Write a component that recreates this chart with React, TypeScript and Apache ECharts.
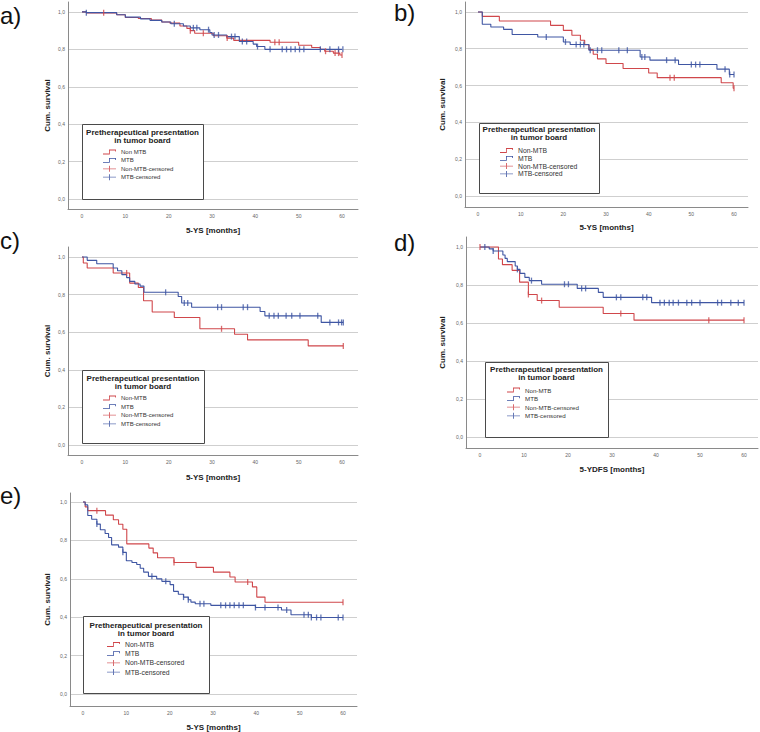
import React, { useEffect, useRef } from 'react';
import * as echarts from 'echarts';

const xTicks = [0, 10, 20, 30, 40, 50, 60];
const yTicks = [0, 0.2, 0.4, 0.6, 0.8, 1.0];

// ---- a) ----
const aNonMtbTimes = [0, 1, 8, 10, 13, 16, 18.4, 20.3, 22.6, 24.2, 25, 26, 30.3, 33.4, 35, 43.4, 50, 53, 55, 56, 58, 59.5, 60];
const aNonMtbSurv = [1, 0.995, 0.985, 0.97, 0.965, 0.957, 0.946, 0.94, 0.925, 0.912, 0.9, 0.886, 0.873, 0.86, 0.848, 0.838, 0.822, 0.81, 0.8, 0.79, 0.78, 0.77, 0.77];
const aNonMtbCensored = [5, 25, 28, 33.5, 44.5, 45.5, 56.2, 58.4, 59.2, 60];
const aMtbTimes = [0, 1, 8, 10, 13.5, 15.7, 18.4, 20.5, 23.4, 25, 27.2, 29.5, 30, 33.4, 36.3, 39.5, 40.3, 42.2, 60];
const aMtbSurv = [1, 0.996, 0.985, 0.972, 0.963, 0.955, 0.946, 0.937, 0.925, 0.915, 0.905, 0.89, 0.877, 0.868, 0.842, 0.828, 0.815, 0.8, 0.8];
const aMtbCensored = [1, 21.3, 25.7, 26.5, 29.2, 30.5, 31.5, 34.5, 35.3, 37, 38, 40.5, 43.4, 46.2, 47.2, 48.2, 49.2, 50.2, 51.2, 55, 57.2, 59.2, 60.2];

// ---- b) ----
const bNonMtbTimes = [0, 1, 5, 17, 20, 22, 24, 25, 26, 27, 28, 30, 34, 40, 42, 57, 59.8, 60];
const bNonMtbSurv = [1, 0.976, 0.951, 0.927, 0.9, 0.873, 0.846, 0.822, 0.795, 0.77, 0.745, 0.72, 0.693, 0.668, 0.643, 0.615, 0.585, 0.585];
const bNonMtbCensored = [45, 46, 60];
const bMtbTimes = [0, 1, 3, 6, 8, 14, 20, 21.6, 26, 38, 40.3, 47, 56, 58.9, 60];
const bMtbSurv = [1, 0.933, 0.918, 0.905, 0.877, 0.864, 0.837, 0.823, 0.792, 0.755, 0.738, 0.714, 0.689, 0.66, 0.66];
const bMtbCensored = [16, 20.5, 23, 24, 24.8, 26.3, 28, 29, 33, 35, 38.4, 39.1, 44.2, 46.2, 50, 51, 52, 57.9, 59, 60];

// ---- c) ----
const cNonMtbTimes = [0, 0.3, 1.2, 7.2, 11, 13, 14.2, 16.2, 21.3, 27.2, 35.2, 38.2, 52.2, 60.3];
const cNonMtbSurv = [1, 0.968, 0.941, 0.915, 0.861, 0.838, 0.767, 0.707, 0.678, 0.618, 0.589, 0.559, 0.527, 0.527];
const cNonMtbCensored = [10.3, 32.2, 60.3];
const cMtbTimes = [0, 1.2, 3.4, 7.2, 8.2, 9.2, 10.3, 11, 12.2, 13.4, 14.3, 22.2, 23, 25.3, 41.1, 42.2, 55.2, 60.3];
const cMtbSurv = [1, 0.982, 0.964, 0.941, 0.927, 0.906, 0.89, 0.87, 0.856, 0.845, 0.812, 0.79, 0.755, 0.733, 0.71, 0.687, 0.652, 0.652];
const cMtbCensored = [19.3, 23.6, 24.4, 31.3, 32.2, 37.2, 38.2, 43.2, 44.3, 45.3, 47.1, 48.4, 50.3, 54.4, 57.2, 59.2, 59.9, 60.3];

// ---- d) ----
const dNonMtbTimes = [0, 4.2, 5.1, 7.3, 9, 11, 13, 18, 28, 35, 60];
const dNonMtbSurv = [1, 0.937, 0.907, 0.877, 0.815, 0.75, 0.718, 0.683, 0.65, 0.615, 0.615];
const dNonMtbCensored = [0, 11, 14, 32, 52, 60];
const dMtbTimes = [0, 2.1, 3, 5.2, 5.7, 6.2, 8, 8.5, 9.1, 10.2, 11.2, 14, 22.1, 26.9, 28, 39, 60];
const dMtbSurv = [1, 0.99, 0.979, 0.958, 0.94, 0.923, 0.9, 0.882, 0.861, 0.84, 0.823, 0.804, 0.782, 0.761, 0.735, 0.707, 0.707];
const dMtbCensored = [1.1, 3, 8.5, 11.7, 19.2, 20.1, 23.1, 24, 31, 32, 37, 37.9, 40.9, 41.9, 43, 43.9, 45.1, 47, 48.1, 50, 54, 54.9, 57, 58.7, 60];

// ---- e) ----
const eNonMtbTimes = [0, 0.5, 1.1, 5.2, 7, 8.2, 9.2, 10.1, 15.2, 16.2, 17.2, 21, 26.1, 30.1, 33.9, 35.1, 39.1, 40.1, 42, 60];
const eNonMtbSurv = [1, 0.975, 0.955, 0.932, 0.908, 0.884, 0.858, 0.782, 0.76, 0.735, 0.71, 0.685, 0.66, 0.635, 0.61, 0.584, 0.558, 0.505, 0.478, 0.478];
const eNonMtbCensored = [3.2, 21, 38, 60];
const eMtbTimes = [0, 0.5, 1.1, 2, 3.2, 4, 5.1, 5.9, 6.6, 8.2, 9.2, 10, 11.3, 12.4, 13.2, 14, 15.1, 17, 18.2, 20.1, 20.9, 22, 23.2, 24.3, 24.9, 25.9, 29.5, 39.8, 45.8, 48, 52.7, 60];
const eMtbSurv = [1, 0.985, 0.93, 0.91, 0.885, 0.856, 0.836, 0.815, 0.777, 0.765, 0.738, 0.694, 0.685, 0.675, 0.655, 0.635, 0.613, 0.6, 0.587, 0.57, 0.535, 0.52, 0.505, 0.491, 0.479, 0.47, 0.462, 0.451, 0.438, 0.413, 0.399, 0.399];
const eMtbCensored = [3.2, 9.2, 15.9, 19.1, 23.2, 24.3, 27, 27.9, 31.8, 32.9, 33.9, 34.9, 36, 37, 39.8, 42, 45, 47, 51, 52, 52.7, 53.9, 54.9, 58.9, 60];

const RED = '#d0474b';
const BLUE = '#3f56a3';
const FONT = '"Liberation Sans", Arial, sans-serif';
const STEP_ICON = 'path://M0,5 L6,5 L6,1 L13,1 L13,3 L12.2,3 L12.2,1.8 L6.8,1.8 L6.8,5.8 L0,5.8 Z';
const CENS_ICON = 'path://M0,2.6 L13,2.6 L13,3.4 L0,3.4 Z M6,0 L7,0 L7,6 L6,6 Z';
const CENS_SYMBOL = 'path://M0,0 L1,0 L1,10 L0,10 Z';

const panelData = [
  { label: 'a)', xName: '5-YS [months]', nonName: 'Non MTB', nonT: aNonMtbTimes, nonS: aNonMtbSurv, nonC: aNonMtbCensored, mtbT: aMtbTimes, mtbS: aMtbSurv, mtbC: aMtbCensored },
  { label: 'b)', xName: '5-YS [months]', nonName: 'Non-MTB', nonT: bNonMtbTimes, nonS: bNonMtbSurv, nonC: bNonMtbCensored, mtbT: bMtbTimes, mtbS: bMtbSurv, mtbC: bMtbCensored },
  { label: 'c)', xName: '5-YS [months]', nonName: 'Non-MTB', nonT: cNonMtbTimes, nonS: cNonMtbSurv, nonC: cNonMtbCensored, mtbT: cMtbTimes, mtbS: cMtbSurv, mtbC: cMtbCensored },
  { label: 'd)', xName: '5-YDFS [months]', nonName: 'Non-MTB', nonT: dNonMtbTimes, nonS: dNonMtbSurv, nonC: dNonMtbCensored, mtbT: dMtbTimes, mtbS: dMtbSurv, mtbC: dMtbCensored },
  { label: 'e)', xName: '5-YS [months]', nonName: 'Non-MTB', nonT: eNonMtbTimes, nonS: eNonMtbSurv, nonC: eNonMtbCensored, mtbT: eMtbTimes, mtbS: eMtbSurv, mtbC: eMtbCensored },
];

const layouts = [
  { grid: { left: 68, top: 2, width: 290, height: 207 }, x: [-3.23, 63.69], y: [-0.053, 1.053], xGap: 17, yGap: 17, lab: [0, 3], box: [82, 124, 121, 75], titleY: 128, leg: [103, 149, 2.4, 6] },
  { grid: { left: 465, top: 2, width: 283, height: 205 }, x: [-3.05, 63.28], y: [-0.06, 1.054], xGap: 16, yGap: 19, lab: [394, 0], box: [479, 123, 120, 70], titleY: 125, leg: [500, 147, 0.8, 6.8] },
  { grid: { left: 68, top: 247, width: 290, height: 208 }, x: [-3.23, 63.69], y: [-0.053, 1.053], xGap: 18, yGap: 17, lab: [0, 228], box: [82, 370, 122, 73], titleY: 374, leg: [103, 395, 2.6, 6] },
  { grid: { left: 466, top: 237, width: 292, height: 211 }, x: [-3.18, 63.18], y: [-0.058, 1.0526], xGap: 17, yGap: 20, lab: [394, 230], box: [485, 362, 123, 75], titleY: 365, leg: [507, 387, 2.6, 6.2] },
  { grid: { left: 70, top: 493, width: 287, height: 213 }, x: [-3, 63.23], y: [-0.062, 1.047], xGap: 17, yGap: 19, lab: [0, 483], box: [83, 616, 126, 77], titleY: 621, leg: [107, 641, 2.2, 6.8] },
];

function valueAt(times: number[], surv: number[], t: number) {
  let v = surv[0];
  for (let i = 0; i < times.length; i++) {
    if (times[i] <= t + 1e-9) v = surv[i];
  }
  return v;
}

function buildOption() {
  const grid: any[] = [];
  const xAxis: any[] = [];
  const yAxis: any[] = [];
  const series: any[] = [];
  const legend: any[] = [];
  const graphic: any[] = [];

  panelData.forEach((p, i) => {
    const L = layouts[i];
    grid.push({ ...L.grid, containLabel: false, outerBoundsMode: 'none' });
    xAxis.push({
      type: 'value', gridIndex: i, min: L.x[0], max: L.x[1],
      name: p.xName, nameLocation: 'middle', nameGap: L.xGap,
      nameTextStyle: { fontFamily: FONT, fontSize: 8, fontWeight: 'bold', color: '#222' },
      axisLine: { show: true, onZero: false, lineStyle: { color: '#8a8a8a', width: 1 } },
      axisTick: { show: false, customValues: xTicks },
      axisLabel: { customValues: xTicks, fontSize: 5, color: '#666', fontFamily: FONT, margin: 4 },
      splitLine: { show: false },
    });
    yAxis.push({
      type: 'value', gridIndex: i, min: L.y[0], max: L.y[1],
      name: 'Cum. survival', nameLocation: 'middle', nameGap: L.yGap, nameRotate: 90,
      nameTextStyle: { fontFamily: FONT, fontSize: 8, fontWeight: 'bold', color: '#222' },
      axisLine: { show: true, onZero: false, lineStyle: { color: '#8a8a8a', width: 1 } },
      axisTick: { show: false, customValues: yTicks },
      axisLabel: {
        customValues: yTicks, fontSize: 5, color: '#666', fontFamily: FONT, margin: 3,
        formatter: (v: number) => v.toFixed(1).replace('.', ','),
      },
      splitLine: { show: true, lineStyle: { color: '#cfcfcf', width: 1 } },
    });
    series.push({
      type: 'line', name: p.nonName, xAxisIndex: i, yAxisIndex: i, step: 'end',
      showSymbol: false, symbol: 'none', color: RED, lineStyle: { color: RED, width: 1.1 },
      data: p.nonT.map((t, k) => [t, p.nonS[k]]), z: 3,
    });
    series.push({
      type: 'line', name: 'MTB', xAxisIndex: i, yAxisIndex: i, step: 'end',
      showSymbol: false, symbol: 'none', color: BLUE, lineStyle: { color: BLUE, width: 1.1 },
      data: p.mtbT.map((t, k) => [t, p.mtbS[k]]), z: 3,
    });
    series.push({
      type: 'scatter', name: 'Non-MTB-censored', xAxisIndex: i, yAxisIndex: i,
      symbol: CENS_SYMBOL, symbolSize: [1.3, 6], color: RED, itemStyle: { color: RED },
      data: p.nonC.map((t) => [t, valueAt(p.nonT, p.nonS, t)]), z: 4,
    });
    series.push({
      type: 'scatter', name: 'MTB-censored', xAxisIndex: i, yAxisIndex: i,
      symbol: CENS_SYMBOL, symbolSize: [1.3, 6], color: BLUE, itemStyle: { color: BLUE },
      data: p.mtbC.map((t) => [t, valueAt(p.mtbT, p.mtbS, t)]), z: 4,
    });
    legend.push({
      orient: 'vertical', left: L.leg[0], top: L.leg[1], itemWidth: 13, itemHeight: 6,
      itemGap: L.leg[2], padding: 0, selectedMode: false, z: 10,
      itemStyle: { borderWidth: 0 },
      textStyle: { fontSize: L.leg[3], color: '#333', fontFamily: FONT },
      data: [
        { name: p.nonName, icon: STEP_ICON, itemStyle: { color: RED } },
        { name: 'MTB', icon: STEP_ICON, itemStyle: { color: BLUE } },
        { name: 'Non-MTB-censored', icon: CENS_ICON, itemStyle: { color: RED } },
        { name: 'MTB-censored', icon: CENS_ICON, itemStyle: { color: BLUE } },
      ],
    });
    const [bx, by, bw, bh] = L.box;
    graphic.push({
      type: 'rect', z: 5, shape: { x: bx + 0.5, y: by + 0.5, width: bw, height: bh },
      style: { fill: '#fff', stroke: '#4a4a4a', lineWidth: 1 },
    });
    graphic.push({
      type: 'text', z: 6, x: bx + bw / 2, y: L.titleY,
      style: {
        text: 'Pretherapeutical presentation\nin tumor board', fontFamily: FONT, fontSize: 8,
        fontWeight: 'bold', fill: '#222', align: 'center', verticalAlign: 'top', lineHeight: 8.5,
      },
    });
    graphic.push({
      type: 'text', z: 6, x: L.lab[0], y: L.lab[1],
      style: { text: p.label, fontFamily: FONT, fontSize: 24, fill: '#111', align: 'left', verticalAlign: 'top' },
    });
  });

  return { animation: false, backgroundColor: '#fff', grid, xAxis, yAxis, series, legend, graphic };
}

export default function App() {
  const ref = useRef<HTMLDivElement>(null);
  useEffect(() => {
    if (!ref.current) return;
    const chart = echarts.init(ref.current, undefined, { renderer: 'svg' });
    chart.setOption(buildOption() as any);
    return () => chart.dispose();
  }, []);
  return <div ref={ref} style={{ position: 'fixed', left: 0, top: 0, width: 760, height: 732, background: '#fff' }} />;
}
